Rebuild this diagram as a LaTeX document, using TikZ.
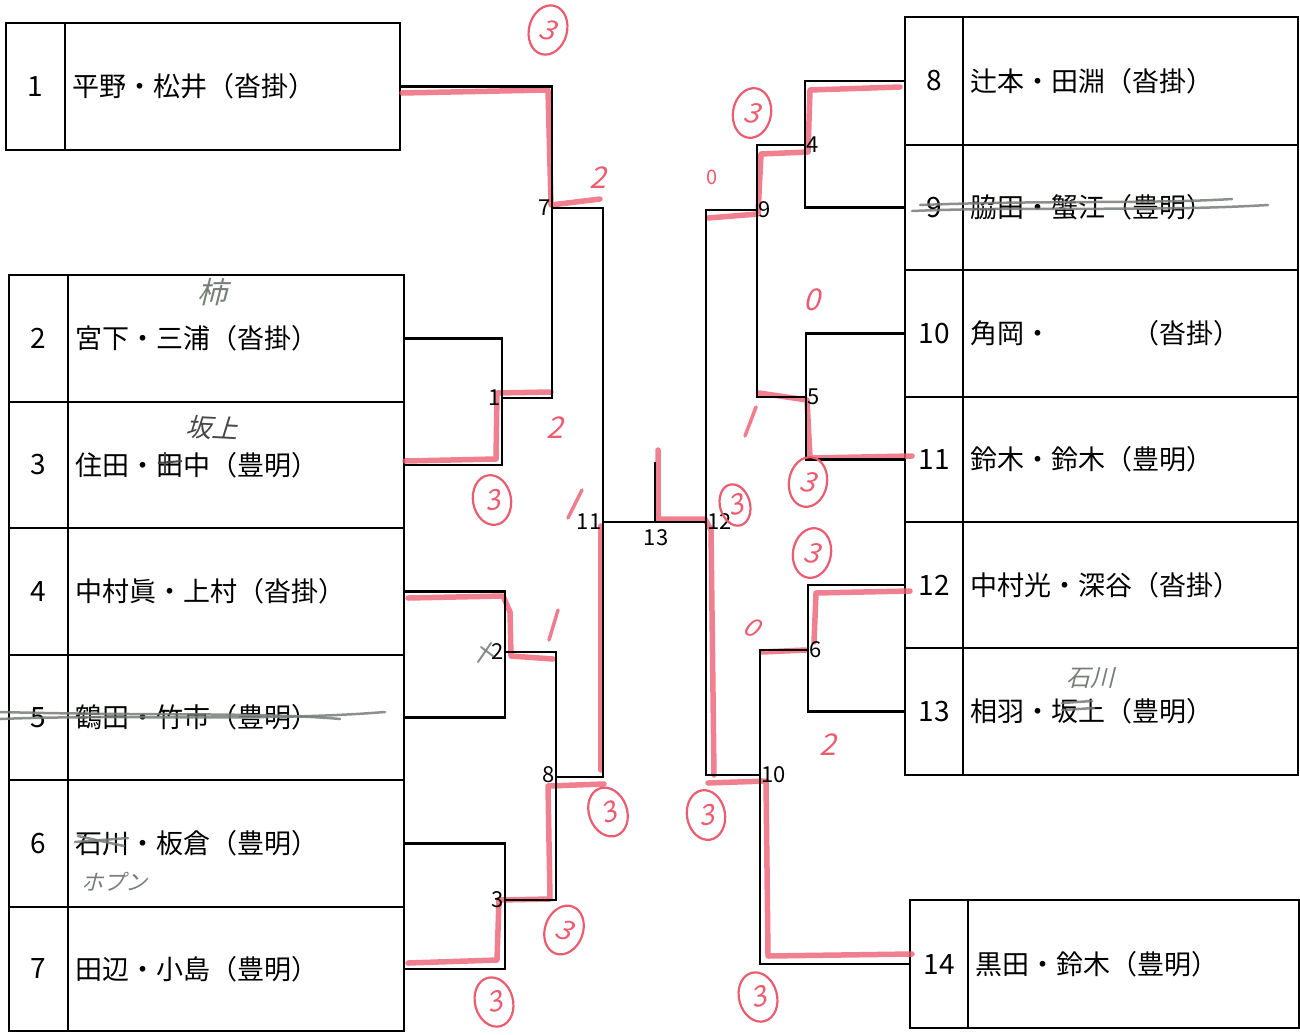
\documentclass[tikz,border=0pt]{standalone}
\usepackage{fontspec}
\setmainfont{Noto Sans CJK JP}
\newfontfamily\slantf[FakeSlant=0.25]{Noto Sans CJK JP}
\usetikzlibrary{calc,shapes.geometric}
\definecolor{pen}{RGB}{236,92,112}
\definecolor{pencil}{RGB}{118,126,120}
\definecolor{lead}{RGB}{70,72,70}
\begin{document}
\begin{tikzpicture}[x=1pt,y=-1pt,
  numcell/.style={draw, line width=2pt, anchor=north west, inner sep=0pt, outer sep=0pt, minimum width=59pt, font=\fontsize{28pt}{29pt}\selectfont},
  namecell/.style={draw, line width=2pt, anchor=north west, inner sep=0pt, outer sep=0pt},
  nametext/.style={anchor=west, inner sep=0pt, font=\fontsize{27pt}{28pt}\selectfont},
  br/.style={draw, line width=2.2pt, line join=miter},
  lbl/.style={inner sep=1.5pt, font=\fontsize{22pt}{23pt}\selectfont},
  redpen/.style={draw=pen, line width=5.5pt, line cap=round, line join=round, opacity=0.78},
  circ/.style={draw=pen, line width=2.2pt, ellipse, minimum width=38pt, minimum height=50pt, inner sep=0pt, text=pen, font=\slantf\fontsize{28pt}{28pt}\selectfont},
  score/.style={text=pen, inner sep=0pt, font=\slantf\fontsize{30pt}{30pt}\selectfont},
  strike/.style={draw=pencil, line width=2.5pt, line cap=round, opacity=0.85},
  hw/.style={text=pencil, inner sep=0pt, font=\slantf\fontsize{24pt}{24pt}\selectfont}]
\useasboundingbox (0,0) rectangle (1300,1034);

% ---------- left tables ----------
\node[numcell, minimum height=127pt] (n1) at (6,23) {1};
\node[namecell, minimum width=335pt, minimum height=127pt] (c1) at (65,23) {};
\node[nametext] (t1) at ($(c1.west)+(7,0)$) {平野・松井（沓掛）};

\foreach \i/\y/\h/\nm in {2/275/127/宮下・三浦（沓掛）, 3/402/126/住田・田中（豊明）, 4/528/127/中村眞・上村（沓掛）, 5/655/125/鶴田・竹市（豊明）, 6/780/127/石川・板倉（豊明）, 7/907/124/田辺・小島（豊明）}{
  \node[numcell, minimum height=\h pt] (n\i) at (9,\y) {\i};
  \node[namecell, minimum width=336pt, minimum height=\h pt] (c\i) at (68,\y) {};
  \node[nametext] (t\i) at ($(c\i.west)+(7,0)$) {\nm};
}

% ---------- right tables ----------
\foreach \i/\y/\h/\nm in {8/17/128/辻本・田淵（沓掛）, 9/145/125/脇田・蟹江（豊明）, 10/270/127/角岡・　　　（沓掛）, 11/397/125/鈴木・鈴木（豊明）, 12/522/126/中村光・深谷（沓掛）, 13/648/127/相羽・坂上（豊明）}{
  \node[numcell, minimum width=58pt, minimum height=\h pt] (n\i) at (905,\y) {\i};
  \node[namecell, minimum width=335pt, minimum height=\h pt] (c\i) at (963,\y) {};
  \node[nametext] (t\i) at ($(c\i.west)+(7,0)$) {\nm};
}
\node[numcell, minimum width=58pt, minimum height=128pt] (n14) at (910,900) {14};
\node[namecell, minimum width=331pt, minimum height=128pt] (c14) at (968,900) {};
\node[nametext] (t14) at ($(c14.west)+(7,0)$) {黒田・鈴木（豊明）};

% ---------- bracket junctions ----------
\coordinate (m1) at (502,398);
\coordinate (m2) at (505,652);
\coordinate (m3) at (505,900);
\coordinate (m7) at (552,208);
\coordinate (m8) at (556,777);
\coordinate (m11) at (603,522);
\coordinate (m13) at (655,522);
\coordinate (t13) at (655,462);
\coordinate (m12) at (706,522);
\coordinate (m9) at (757,210);
\coordinate (m10) at (760,775);
\coordinate (m4) at (805,145);
\coordinate (m5) at (806,397);
\coordinate (m6) at (808,650);

% ---------- red markings (under black lines) ----------
\draw[redpen] (402,93) -- (548,90) -- (551,205) -- (600,199);
\draw[redpen] (405,461) -- (496,459) -- (497,393) -- (551,392);
\draw[redpen] (408,598) -- (503,596) -- (510,612) -- (511,656) -- (553,659);
\draw[redpen] (408,963) -- (497,960) -- (499,900) -- (550,899) -- (548,786) -- (604,784);
\draw[redpen] (601,526) -- (601,770);
\draw[redpen] (658,450) -- (658,519) -- (705,519) -- (711,530) -- (714,775);
\draw[redpen] (708,783) -- (766,781) -- (768,956) -- (912,954);
\draw[redpen] (900,87) -- (810,90) -- (808,152) -- (761,154) -- (758,214) -- (708,218);
\draw[redpen] (912,456) -- (810,458) -- (807,400) -- (759,393);
\draw[redpen] (910,591) -- (816,593) -- (814,642);
\draw[redpen] (762,652) -- (806,650);

% ---------- bracket lines ----------
\draw[br] (c2.east) -| (m1) |- (c3.east);
\draw[br] (c4.east) -| (m2) |- (c5.east);
\draw[br] (c6.east) -| (m3) |- (c7.east);
\draw[br] (c1.east) -| (m7) |- (m1);
\draw[br] (m2) -| (m8) |- (m3);
\draw[br] (m7) -| (m11) |- (m8);
\draw[br] (m11) -- (m13) -- (m12);
\draw[br] (m13) -- (t13);
\draw[br] (n8.west) -| (m4) |- (n9.west);
\draw[br] (n10.west) -| (m5) |- (n11.west);
\draw[br] (n12.west) -| (m6) |- (n13.west);
\draw[br] (m4) -| (m9) |- (m5);
\draw[br] (m6) -| (m10) |- (n14.west);
\draw[br] (m9) -| (m12) |- (m10);

% ---------- match labels ----------
\node[lbl, anchor=east] (l7) at (m7) {7};
\node[lbl, anchor=east] (l1) at (m1) {1};
\node[lbl, anchor=east] (l2) at (m2) {2};
\node[lbl, anchor=east] (l3) at (m3) {3};
\node[lbl, anchor=east] (l8) at ($(m8)+(0,-2)$) {8};
\node[lbl, anchor=east] (l11) at (m11) {11};
\node[lbl, anchor=north] (l13) at ($(m13)+(1,6)$) {13};
\node[lbl, anchor=west] (l12) at (m12) {12};
\node[lbl, anchor=west] (l4) at (m4) {4};
\node[lbl, anchor=west] (l9) at (m9) {9};
\node[lbl, anchor=west] (l5) at (m5) {5};
\node[lbl, anchor=west] (l6) at (m6) {6};
\node[lbl, anchor=west] (l10) at (m10) {10};

% ---------- red circled scores ----------
\node[circ, rotate=-15] (s1) at (548,30) {3};
\node[circ, rotate=10] (s2) at (492,500) {3};
\node[circ, rotate=20] (s3) at (608,812) {3};
\node[circ, rotate=-20] (s4) at (564,930) {3};
\node[circ, rotate=15] (s5) at (494,1002) {3};
\node[circ, rotate=-10] (s6) at (752,113) {3};
\node[circ, rotate=-10] (s7) at (808,482) {3};
\node[circ, rotate=15, minimum width=30pt, minimum height=42pt] (s8) at (735,505) {3};
\node[circ, rotate=-10] (s9) at (812,553) {3};
\node[circ, rotate=10] (s10) at (706,815) {3};
\node[circ, rotate=15] (s11) at (758,997) {3};

% ---------- red plain scores ----------
\node[score] (p1) at (598,178) {2};
\node[score] (p2) at (555,428) {2};
\node[score] (p3) at (828,745) {2};
\node[score, font=\fontsize{20pt}{20pt}\selectfont] (p4) at (712,177) {0};
\node[score] (p5) at (812,300) {0};
\node[score, font=\slantf\fontsize{26pt}{26pt}\selectfont, rotate=-25] (p6) at (752,627) {0};
\draw[draw=pen, line width=3.5pt, line cap=round, opacity=.8] (568,518) -- (582,490);
\draw[draw=pen, line width=3.5pt, line cap=round, opacity=.8] (549,640) -- (558,610);
\draw[draw=pen, line width=3.5pt, line cap=round, opacity=.8] (745,436) -- (756,407);

% ---------- pencil marks ----------
\draw[strike] (0,719) .. controls (120,714) and (260,722) .. (385,712);
\draw[strike] (0,712) .. controls (150,716) and (260,712) .. (340,719);
\draw[strike] (912,211) .. controls (1030,206) and (1150,212) .. (1268,205);
\draw[strike] (920,205) .. controls (1050,200) and (1150,204) .. (1232,199);
\draw[strike] (75,842) -- (128,838);
\draw[strike] (78,836) -- (124,846);
\node[hw, font=\slantf\fontsize{22pt}{22pt}\selectfont] (h1) at (114,882) {ホプン};
\node[hw, text=lead, font=\slantf\fontsize{26pt}{26pt}\selectfont, rotate=-3] (h2) at (212,428) {坂上};
\draw[draw=lead, line width=2pt] (158,463) -- (182,461);
\draw[draw=lead, line width=2pt] (165,452) -- (165,474);
\node[hw, font=\slantf\fontsize{30pt}{30pt}\selectfont] (h3) at (212,292) {柿};
\node[hw] (h4) at (1090,678) {石川};
\draw[strike] (1062,703) -- (1092,701);
\draw[strike] (1062,710) -- (1094,708);
\draw[strike, line width=2pt] (478,662) -- (491,643);
\draw[strike, line width=2pt] (481,647) -- (493,656);
\end{tikzpicture}
\end{document}
